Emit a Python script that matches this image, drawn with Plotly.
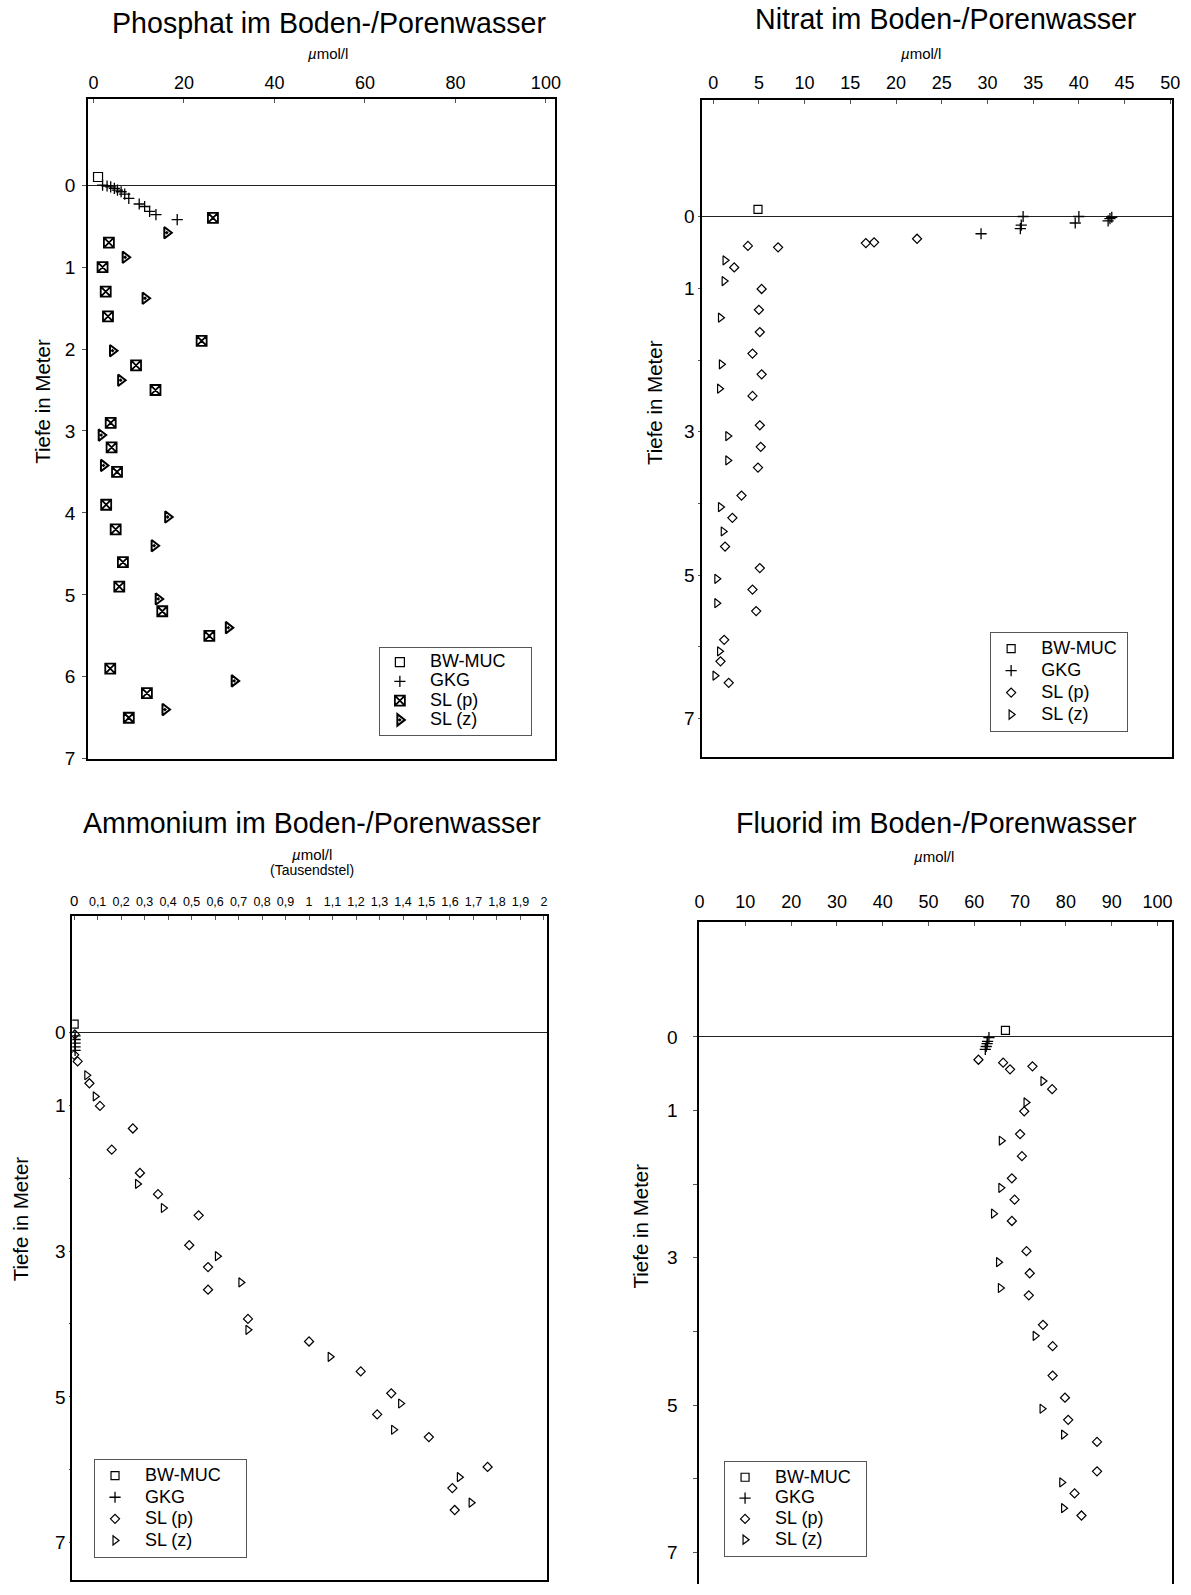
import plotly.graph_objects as go

W, H = 1191, 1595
FONT = "Liberation Sans, Arial, sans-serif"

# ---------------- data ----------------
# Phosphat (µmol/l, depth m)
pho_bw_x = [1.0]
pho_bw_d = [-0.10]
pho_gkg_x = [2.0, 3.0, 3.8, 4.6, 5.3, 6.1, 6.9, 7.8, 10.1, 11.3, 12.4, 13.8, 18.5]
pho_gkg_d = [0.00, 0.01, 0.02, 0.04, 0.06, 0.08, 0.11, 0.16, 0.23, 0.26, 0.32, 0.36, 0.42]
pho_slp_x = [26.4, 3.4, 2.0, 2.7, 3.2, 23.9, 9.4, 13.7, 3.8, 4.0, 5.2, 2.8, 4.9, 6.5, 5.7, 15.2, 25.6, 3.7, 11.8, 7.8]
pho_slp_d = [0.40, 0.70, 1.00, 1.30, 1.60, 1.90, 2.20, 2.50, 2.90, 3.20, 3.50, 3.90, 4.20, 4.60, 4.90, 5.20, 5.50, 5.90, 6.20, 6.50]
pho_slz_x = [16.2, 7.0, 11.4, 4.2, 6.0, 1.7, 2.2, 16.4, 13.4, 14.3, 29.8, 31.1, 15.8]
pho_slz_d = [0.58, 0.88, 1.38, 2.02, 2.38, 3.05, 3.42, 4.05, 4.40, 5.05, 5.40, 6.05, 6.40]

# Nitrat
nit_bw_x = [4.9]
nit_bw_d = [-0.10]
nit_gkg_x = [43.6, 43.4, 43.2, 40.0, 39.6, 33.9, 33.7, 33.6, 29.3]
nit_gkg_d = [0.01, 0.03, 0.06, 0.00, 0.09, 0.00, 0.12, 0.17, 0.24]
nit_slp_x = [22.3, 17.6, 16.7, 3.8, 7.1, 2.3, 5.3, 5.0, 5.1, 4.3, 5.3, 4.3, 5.1, 5.2, 4.9, 3.1, 2.1, 1.3, 5.1, 4.3, 4.7, 1.2, 0.8, 1.7]
nit_slp_d = [0.31, 0.36, 0.37, 0.41, 0.43, 0.71, 1.01, 1.30, 1.61, 1.91, 2.20, 2.50, 2.91, 3.21, 3.50, 3.89, 4.20, 4.60, 4.90, 5.20, 5.50, 5.90, 6.20, 6.50]
nit_slz_x = [1.3, 1.2, 0.8, 0.9, 0.7, 1.6, 1.6, 0.8, 1.1, 0.4, 0.4, 0.7, 0.2]
nit_slz_d = [0.61, 0.90, 1.41, 2.06, 2.40, 3.06, 3.40, 4.05, 4.39, 5.05, 5.39, 6.06, 6.40]

# Ammonium (µmol/l, Tausendstel)
amm_bw_x = [0.0]
amm_bw_d = [-0.11]
amm_gkg_x = [0.004, 0.004, 0.004, 0.004, 0.004]
amm_gkg_d = [0.05, 0.10, 0.15, 0.20, 0.25]
amm_slp_x = [0.003, 0.0, 0.015, 0.065, 0.11, 0.25, 0.16, 0.28, 0.357, 0.53, 0.49, 0.57, 0.57, 0.74, 1.00, 1.22, 1.35, 1.29, 1.51, 1.76, 1.61, 1.62]
amm_slp_d = [0.03, 0.31, 0.40, 0.70, 1.01, 1.32, 1.61, 1.93, 2.22, 2.51, 2.92, 3.22, 3.53, 3.93, 4.24, 4.65, 4.95, 5.24, 5.55, 5.96, 6.25, 6.55]
amm_slz_x = [0.054, 0.09, 0.27, 0.38, 0.61, 0.71, 0.74, 1.09, 1.39, 1.36, 1.64, 1.69]
amm_slz_d = [0.59, 0.88, 2.08, 2.41, 3.07, 3.43, 4.08, 4.45, 5.09, 5.45, 6.10, 6.45]

# Fluorid
flu_bw_x = [66.8]
flu_bw_d = [-0.09]
flu_gkg_x = [63.2, 62.9, 62.8, 62.6, 62.4]
flu_gkg_d = [0.01, 0.06, 0.09, 0.13, 0.17]
flu_slp_x = [60.9, 66.3, 67.8, 72.7, 77.0, 70.9, 70.0, 70.4, 68.2, 68.8, 68.2, 71.4, 72.1, 71.9, 75.0, 77.1, 77.1, 79.8, 80.5, 86.8, 86.8, 81.9, 83.4]
flu_slp_d = [0.31, 0.35, 0.44, 0.40, 0.71, 1.01, 1.32, 1.62, 1.92, 2.21, 2.50, 2.91, 3.21, 3.51, 3.91, 4.20, 4.60, 4.90, 5.20, 5.50, 5.90, 6.20, 6.50]
flu_slz_x = [75.0, 71.3, 65.9, 65.8, 64.2, 65.3, 65.7, 73.3, 74.8, 79.5, 79.1, 79.5]
flu_slz_d = [0.60, 0.89, 1.41, 2.05, 2.40, 3.06, 3.41, 4.06, 5.05, 5.40, 6.05, 6.40]

series_names = ["BW-MUC", "GKG", "SL (p)", "SL (z)"]
titles = ["Phosphat im Boden-/Porenwasser", "Nitrat im Boden-/Porenwasser",
          "Ammonium im Boden-/Porenwasser", "Fluorid im Boden-/Porenwasser"]
ytitle = "Tiefe in Meter"
xunit = "<i>µ</i>mol/l"
amm_sub = "(Tausendstel)"

pho_ticks = [0, 20, 40, 60, 80, 100]
nit_ticks = [0, 5, 10, 15, 20, 25, 30, 35, 40, 45, 50]
amm_ticks = [i / 10 for i in range(21)]
amm_ticktext = ['<span style="font-size:15px">0</span>'] + \
    [("%.1f" % v).replace(".", ",") for v in amm_ticks[1:10]] + ["1"] + \
    [("%.1f" % v).replace(".", ",") for v in amm_ticks[11:20]] + ["2"]
flu_ticks = [0, 10, 20, 30, 40, 50, 60, 70, 80, 90, 100]
depth_ticks = [0, 1, 2, 3, 4, 5, 6, 7]
depth_text_all = ["0", "1", "2", "3", "4", "5", "6", "7"]
depth_text_odd = ["0", "1", "", "3", "", "5", "", "7"]

# ---------------- layout helpers (window pixels -> paper) ----------------
def fx(p):
    return min(1.0, max(0.0, p / W))

def fy(p):
    return min(1.0, max(0.0, 1 - p / H))

panels = [
    dict(box=(84, 556, 100, 764), xr=[-1.2, 102.0], yr=[7.0, -1.048], mirror_x=True),
    dict(box=(705, 1180, 101, 762), xr=[-1.19, 50.2], yr=[7.53, -1.62], mirror_x=True),
    dict(box=(68, 548, 922, 1591), xr=[-0.008, 2.013], yr=[7.51, -1.598], mirror_x=True),
    dict(box=(702, 1180, 928, 1595), xr=[-0.05, 103.2], yr=[7.43, -1.566], mirror_x=False),
]

fig = go.Figure()

data = [
    [(pho_bw_x, pho_bw_d), (pho_gkg_x, pho_gkg_d), (pho_slp_x, pho_slp_d), (pho_slz_x, pho_slz_d)],
    [(nit_bw_x, nit_bw_d), (nit_gkg_x, nit_gkg_d), (nit_slp_x, nit_slp_d), (nit_slz_x, nit_slz_d)],
    [(amm_bw_x, amm_bw_d), (amm_gkg_x, amm_gkg_d), (amm_slp_x, amm_slp_d), (amm_slz_x, amm_slz_d)],
    [(flu_bw_x, flu_bw_d), (flu_gkg_x, flu_gkg_d), (flu_slp_x, flu_slp_d), (flu_slz_x, flu_slz_d)],
]

def marker_styles(i):
    if i == 0:
        return [
            dict(symbol="square-open", size=9, color="black", line=dict(width=1.2, color="black")),
            dict(symbol="cross-thin-open", size=8, color="black", line=dict(width=1.3, color="black")),
            dict(symbol="square-x-open", size=10, color="black", line=dict(width=1.8, color="black")),
            dict(symbol="triangle-right-open-dot", size=10, color="black", line=dict(width=2, color="black")),
        ]
    return [
        dict(symbol="square-open", size=8, color="black", line=dict(width=1.2, color="black")),
        dict(symbol="cross-thin-open", size=8, color="black", line=dict(width=1.3, color="black")),
        dict(symbol="diamond-open", size=7, color="black", line=dict(width=1.2, color="black")),
        dict(symbol="triangle-right-open", size=8, color="black", line=dict(width=1.2, color="black")),
    ]

# legend: (left, top, row font size, trailing pad count)
legend_pos = [(378, 651, 12.5, 4), (996, 636, 14.6, 1), (90, 1469, 14.3, 4), (727, 1471, 13.7, 2)]

def legend_label(name, pad):
    return ('<span style="font-size:18px">&nbsp;&nbsp;' + name +
            "&nbsp;" * pad + "</span>")

for i, pan in enumerate(panels):
    sfx = "" if i == 0 else str(i + 1)
    leg = "legend" if i == 0 else "legend" + str(i + 1)
    styles = marker_styles(i)
    pad = legend_pos[i][3]
    for k, (xs, ds) in enumerate(data[i]):
        fig.add_trace(go.Scatter(
            x=xs, y=ds, mode="markers",
            name=legend_label(series_names[k], pad if k == 0 else 0),
            marker=styles[k], xaxis="x" + sfx, yaxis="y" + sfx,
            legend=leg, showlegend=True,
        ))

layout = dict(
    width=W, height=H, margin=dict(l=0, r=0, t=0, b=0),
    paper_bgcolor="white", plot_bgcolor="white",
    font=dict(family=FONT, color="black", size=18),
)

xtick_specs = [
    dict(tickvals=pho_ticks, ticktext=[str(v) for v in pho_ticks], size=18, standoff=1),
    dict(tickvals=nit_ticks, ticktext=[str(v) for v in nit_ticks], size=18, standoff=2),
    dict(tickvals=amm_ticks, ticktext=amm_ticktext, size=12.5, standoff=3),
    dict(tickvals=flu_ticks, ticktext=[str(v) for v in flu_ticks], size=18, standoff=4),
]
ytick_len = [4, 2, 1, 4]
ytick_standoff = [3, 0, 0, 12]

for i, pan in enumerate(panels):
    sfx = "" if i == 0 else str(i + 1)
    x0, x1, y0, y1 = pan["box"]
    xs = xtick_specs[i]
    layout["xaxis" + sfx] = dict(
        domain=[fx(x0), fx(x1)], range=pan["xr"], side="top",
        anchor="y" + sfx, showgrid=False, zeroline=False,
        showline=True, mirror=pan["mirror_x"], linecolor="black", linewidth=2,
        ticks="inside", ticklen=4, tickwidth=1, tickcolor="#555",
        tickvals=xs["tickvals"], ticktext=xs["ticktext"], tickangle=0,
        tickfont=dict(size=xs["size"], family=FONT),
        ticklabelstandoff=xs["standoff"],
    )
    layout["yaxis" + sfx] = dict(
        domain=[fy(y1), fy(y0)], range=pan["yr"], anchor="x" + sfx,
        showgrid=False, zeroline=True, zerolinecolor="#222", zerolinewidth=1.3,
        showline=True, mirror=True, linecolor="black", linewidth=2,
        ticks="outside", ticklen=ytick_len[i], tickwidth=1, tickcolor="#555",
        tickvals=depth_ticks,
        ticktext=depth_text_all if i == 0 else depth_text_odd,
        tickfont=dict(size=19, family=FONT), ticklabelstandoff=ytick_standoff[i],
    )

for i, (lx, ly, fs, _) in enumerate(legend_pos):
    key = "legend" if i == 0 else "legend" + str(i + 1)
    layout[key] = dict(
        x=fx(lx), y=fy(ly), xanchor="left", yanchor="top",
        bgcolor="white", bordercolor="#555", borderwidth=1,
        font=dict(size=fs, family=FONT), itemwidth=30, tracegroupgap=0,
    )

annotations = []
title_pos = [(328, 23), (951, 19), (310, 829), (942, 829)]
for t, (tx, ty) in zip(titles, title_pos):
    annotations.append(dict(text=t, x=fx(tx), y=fy(ty), xref="paper", yref="paper",
                            showarrow=False, xanchor="center", yanchor="middle",
                            font=dict(size=28.6, family=FONT)))
unit_pos = [(327, 54), (926, 54), (310, 860), (939, 862)]
for (ux, uy) in unit_pos:
    annotations.append(dict(text=xunit, x=fx(ux), y=fy(uy), xref="paper", yref="paper",
                            showarrow=False, xanchor="center", yanchor="middle",
                            font=dict(size=15, family=FONT)))
annotations.append(dict(text=amm_sub, x=fx(310), y=fy(876), xref="paper", yref="paper",
                        showarrow=False, xanchor="center", yanchor="middle",
                        font=dict(size=14, family=FONT)))
ytitle_pos = [(38, 404), (656, 405), (16, 1227), (643, 1234)]
for (ax, ay) in ytitle_pos:
    annotations.append(dict(text=ytitle, x=fx(ax), y=fy(ay), xref="paper", yref="paper",
                            showarrow=False, xanchor="center", yanchor="middle", textangle=-90,
                            font=dict(size=20.5, family=FONT)))
layout["annotations"] = annotations

fig.update_layout(**layout)
fig.write_html("out.html",
               config={"displayModeBar": False},
               post_script="document.documentElement.style.margin='0';"
                           "document.body.style.margin='0';")
